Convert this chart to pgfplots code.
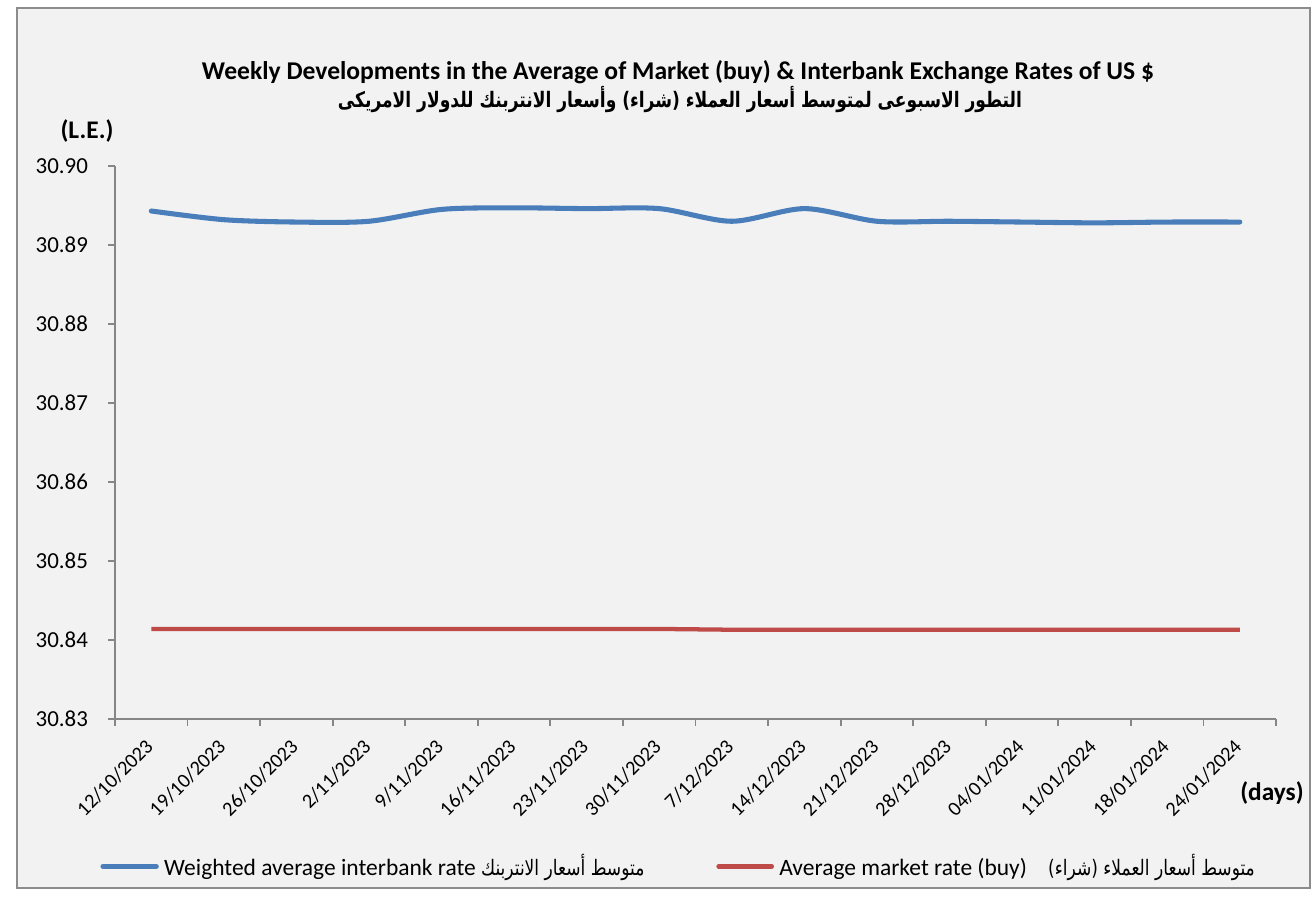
\documentclass[border=0pt]{standalone}
\usepackage{fontspec}
\setmainfont{Carlito}
\newfontfamily\arabicfont[Script=Arabic,FakeStretch=0.8]{DejaVu Sans}
\TeXXeTstate=1
\usepackage{pgfplots}
\pgfplotsset{compat=1.18}
\definecolor{bgc}{HTML}{F2F2F2}
\definecolor{framec}{HTML}{8C8C8C}
\definecolor{axc}{HTML}{868686}
\definecolor{blueline}{HTML}{4A7EBB}
\definecolor{redline}{HTML}{BE4B48}
\begin{document}
\begin{tikzpicture}
\begin{scope}[x=0.375pt,y=-0.375pt]
\useasboundingbox (0,0) rectangle (1313,899);
\fill[white] (0,0) rectangle (1313,899);
\filldraw[fill=bgc, draw=framec, line width=0.5pt] (17,8) rectangle (1310,888);
\node[font=\bfseries\fontsize{9.6}{11}\selectfont] at (678,72) {Weekly Developments in the Average of Market (buy) \& Interbank Exchange Rates of US \$};
\node[font=\fontsize{8}{10}\selectfont] at (680,99) {\arabicfont\bfseries\beginR التطور الاسبوعى لمتوسط أسعار العملاء (شراء) وأسعار الانتربنك للدولار الامريكى\endR};
\node[font=\bfseries\fontsize{9.5}{11}\selectfont] at (87,131) {(L.E.)};
\node[font=\bfseries\fontsize{9.5}{11}\selectfont] at (1272,793) {(days)};
\end{scope}
\begin{axis}[
  at={(43.125pt,-269.625pt)}, anchor=south west, scale only axis,
  width=435.4pt, height=207.4pt,
  xmin=-0.5, xmax=15.5, ymin=30.83, ymax=30.90,
  axis x line*=bottom, axis y line*=left,
  axis line style={draw=axc, line width=0.7pt},
  tick align=outside,
  tick style={draw=axc, line width=0.7pt},
  major tick length=2.6pt,
  xtick={-0.5,0.5,...,15.5}, xticklabels={},
  extra x ticks={0,1,...,15},
  extra x tick labels={12/10/2023,19/10/2023,26/10/2023,2/11/2023,9/11/2023,16/11/2023,23/11/2023,30/11/2023,7/12/2023,14/12/2023,21/12/2023,28/12/2023,04/01/2024,11/01/2024,18/01/2024,24/01/2024},
  extra x tick style={major tick length=0pt, xticklabel style={xshift=1.8pt, yshift=-6.6pt, rotate=45, anchor=east, font=\fontsize{7.6}{9}\selectfont}},
  ytick={30.83,30.84,30.85,30.86,30.87,30.88,30.89,30.90},
  scaled y ticks=false,
  yticklabel style={font=\fontsize{8.6}{10}\selectfont, xshift=-4pt, /pgf/number format/.cd, fixed, fixed zerofill, precision=2, assume math mode=true},
  legend columns=2,
  legend cell align=left,
  legend style={at={(-0.013,-0.233)}, anchor=north west, draw=none, fill=none,
    font=\fontsize{8.8}{10}\selectfont, inner sep=0pt,
    /tikz/every even column/.append style={column sep=25pt}},
  legend image code/.code={\draw[#1,line cap=round] (0pt,0pt) -- (20pt,0pt);},
]
\addplot[blueline, line width=1.9pt, smooth, line cap=round] coordinates {
(0,30.8943) (1,30.8932) (2,30.8929) (3,30.8930) (4,30.8945) (5,30.8947) (6,30.8946) (7,30.8946)
(8,30.8930) (9,30.8946) (10,30.8930) (11,30.8930) (12,30.8929) (13,30.8928) (14,30.8929) (15,30.8929)};
\addlegendentry{Weighted average interbank rate {\fontsize{8}{10}\arabicfont\beginR متوسط أسعار الانتربنك\endR}}
\addplot[redline, line width=1.6pt] coordinates {
(0,30.8414) (1,30.8414) (2,30.8414) (3,30.8414) (4,30.8414) (5,30.8414) (6,30.8414) (7,30.8414)
(8,30.8413) (9,30.8413) (10,30.8413) (11,30.8413) (12,30.8413) (13,30.8413) (14,30.8413) (15,30.8413)};
\addlegendentry{Average market rate (buy)\hspace{8pt}{\fontsize{8}{10}\arabicfont\beginR متوسط أسعار العملاء (شراء)\endR}}
\end{axis}
\end{tikzpicture}
\end{document}
